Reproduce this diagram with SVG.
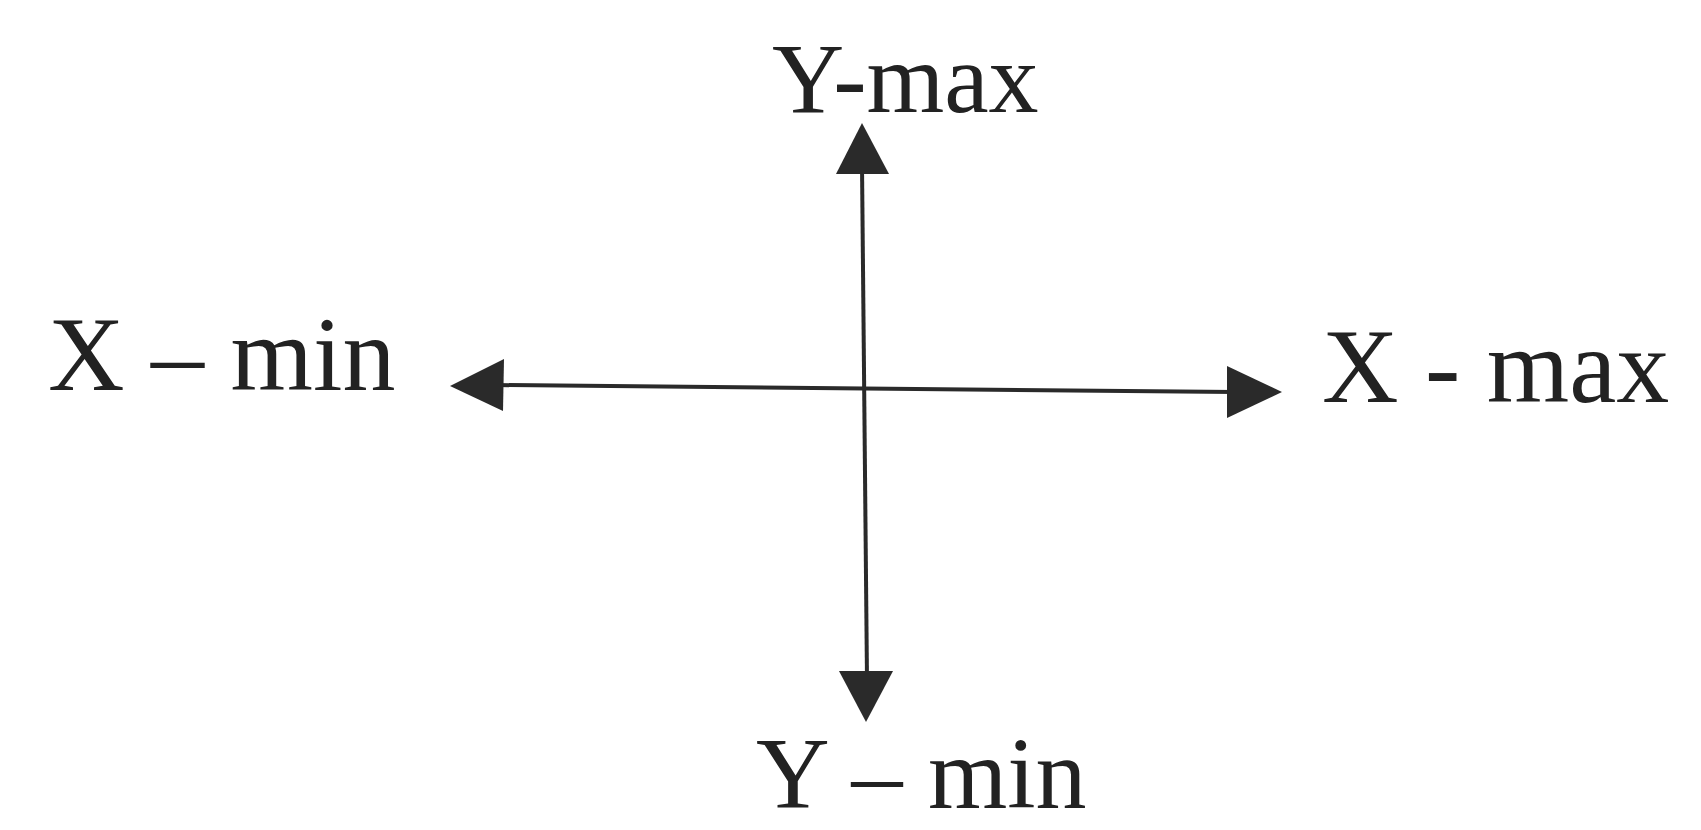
<svg xmlns="http://www.w3.org/2000/svg" width="1701" height="830" viewBox="0 0 1701 830">
<style>
.lbl{font-family:"Liberation Serif","Times New Roman",serif;fill:#222;}
.ax{stroke:#2a2a2a;stroke-width:4;fill:none;}
.head{fill:#2a2a2a;}
</style>
<rect width="1701" height="830" fill="#fff"/>
<g id="connectors">
<line class="ax" x1="862" y1="165" x2="867" y2="680"/>
<polygon class="head" points="862,123 889,174 836,174"/>
<polygon class="head" points="866,722 839,671 893,671"/>
<line class="ax" x1="495" y1="385" x2="1235" y2="392"/>
<polygon class="head" points="450,386 504,359 503,411"/>
<polygon class="head" points="1282,392 1227,366 1227,418"/>
</g>
<g id="y-max"><text class="lbl" x="772" y="112" font-size="100">Y-max</text></g>
<g id="x-min"><text class="lbl" x="48" y="390" font-size="106">X – min</text></g>
<g id="x-max"><text class="lbl" x="1322" y="402" font-size="106">X - max</text></g>
<g id="y-min"><text class="lbl" x="756" y="808" font-size="102">Y – min</text></g>
</svg>
